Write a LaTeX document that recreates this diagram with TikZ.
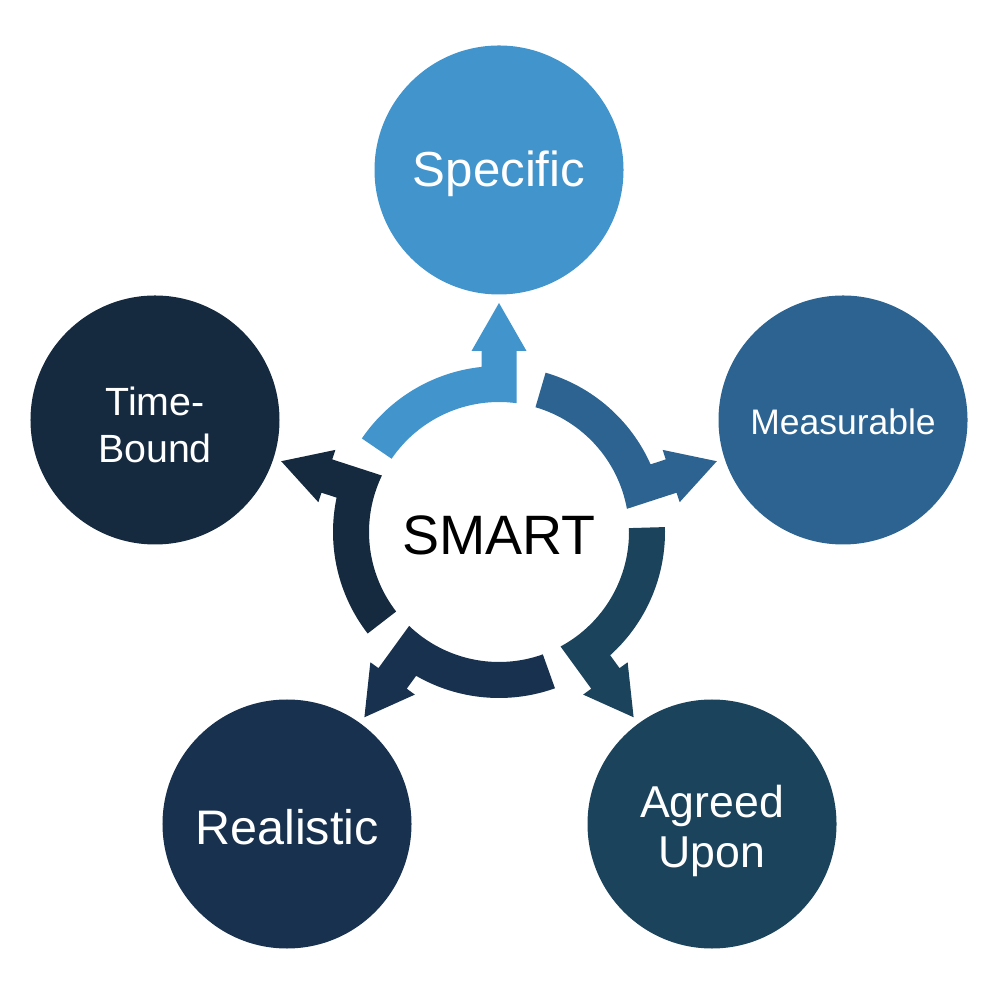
\documentclass[tikz,border=0pt]{standalone}
\usepackage{fontspec}
\setmainfont{Liberation Sans}
\usepackage{tikz}
\definecolor{specblue}{HTML}{4194CC}
\definecolor{measblue}{HTML}{2C6391}
\definecolor{agreeblue}{HTML}{1B435B}
\definecolor{realblue}{HTML}{18314F}
\definecolor{timeblue}{HTML}{15293F}
\tikzset{
	goal/.style={shape=circle, minimum size=2.49cm, inner sep=0pt},
	goaltext/.style={text=white, align=center, inner sep=0pt},
}

\begin{document}
\begin{tikzpicture}
	\useasboundingbox (-4.99, -4.68) rectangle (5.01, 5.32);
	% Ring arrows (one per goal, turned to point at it):
	\foreach \ang/\col in {90/specblue, 18/measblue, -54/agreeblue, -126/realblue, 162/timeblue}{
		\fill[\col, rotate=\ang-90] (145.7:1.66) arc[start angle=145.7, end angle=96.05, radius=1.66] -- (-0.175, 1.81) -- (-0.275, 1.81) -- (0, 2.29) -- (0.275, 1.81) -- (0.175, 1.81) -- (0.175, 1.288) arc[start angle=82.26, end angle=145.7, radius=1.30] -- cycle;
	}
	% Centre and goals:
	\node[font=\fontsize{15.8}{18}\selectfont](N0) at (0, -0.03){SMART};
	\node[goal, fill=specblue](N1) at (0, 3.62){};
	\node[goal, fill=measblue](N2) at (3.44, 1.12){};
	\node[goal, fill=agreeblue](N3) at (2.13, -2.92){};
	\node[goal, fill=realblue](N4) at (-2.12, -2.92){};
	\node[goal, fill=timeblue](N5) at (-3.44, 1.12){};
	\node[goaltext, font=\fontsize{14}{16}\selectfont](T1) at ([yshift=-0.04cm]N1){Specific};
	\node[goaltext, font=\fontsize{10.1}{12}\selectfont](T2) at ([yshift=-0.02cm]N2){Measurable};
	\node[goaltext, font=\fontsize{12.7}{14}\selectfont](T3) at ([yshift=-0.07cm]N3){Agreed\\Upon};
	\node[goaltext, font=\fontsize{13.8}{16}\selectfont](T4) at ([yshift=-0.03cm]N4){Realistic};
	\node[goaltext, font=\fontsize{11.2}{13.6}\selectfont](T5) at ([yshift=-0.05cm]N5){Time-\\Bound};
\end{tikzpicture}
\end{document}
